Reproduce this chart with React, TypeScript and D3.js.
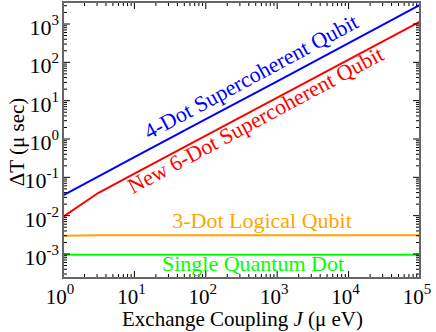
import React from "react";
import * as d3 from "d3";

const couplingJ = [1, 3.1, 10, 100, 1000, 10000, 100000];
const fourDot = [0.034, 0.105, 0.335, 3.3, 32, 315, 3150];
const sixDot = [0.0093, 0.039, 0.125, 1.23, 12.0, 117, 1150];
const threeDot = [0.0030, 0.0031, 0.0031, 0.0031, 0.0031, 0.0031, 0.0031];
const singleDot = [0.00096, 0.00096, 0.00096, 0.00096, 0.00096, 0.00096, 0.00096];

const xTickExps = [0, 1, 2, 3, 4, 5];
const yTickExps = [-3, -2, -1, 0, 1, 2, 3];

const W = 436, H = 332;
const L = 63, R = 420, T = 2, B = 278;

export default function App() {
  const x = d3.scaleLog().domain([1, 1e5]).range([L, R]);
  const y = d3.scaleLog().domain([2.366e-4, 3750]).range([B, T]);
  const line = d3.line<number>().x((_, i) => x(couplingJ[i])).y((v) => y(v));

  const xMinor: number[] = [];
  for (let e = 0; e < 5; e++) for (let m = 2; m <= 9; m++) xMinor.push(m * Math.pow(10, e));
  const yMinor: number[] = [];
  for (let e = -4; e <= 3; e++) for (let m = 2; m <= 9; m++) {
    const v = m * Math.pow(10, e);
    if (v >= 2.366e-4 && v <= 3750) yMinor.push(v);
  }
  const angle = (Math.atan2(y(10) - y(1), x(10) - x(1)) * 180) / Math.PI;
  const font = "'Liberation Serif', 'Times New Roman', serif";

  const series = [
    { data: fourDot, color: "#0000ff" },
    { data: sixDot, color: "#ff0000" },
    { data: threeDot, color: "#ffa500" },
    { data: singleDot, color: "#00ff00" },
  ];

  return (
    <svg width={W} height={H} style={{ position: "absolute", left: 0, top: 0 }} fontFamily={font}>
      <rect x={0} y={0} width={W} height={H} fill="#fff" />
      {series.map((s, i) => (
        <path key={i} d={line(s.data) || ""} fill="none" stroke={s.color} strokeWidth={2} />
      ))}
      <g stroke="#000" strokeWidth={1}>
        {xTickExps.map((e) => {
          const px = x(Math.pow(10, e));
          return (
            <g key={"xm" + e}>
              <line x1={px} x2={px} y1={B} y2={B - 7} />
              <line x1={px} x2={px} y1={T} y2={T + 7} />
            </g>
          );
        })}
        {xMinor.map((v) => (
          <g key={"xn" + v}>
            <line x1={x(v)} x2={x(v)} y1={B} y2={B - 4} />
            <line x1={x(v)} x2={x(v)} y1={T} y2={T + 4} />
          </g>
        ))}
        {yTickExps.map((e) => {
          const py = y(Math.pow(10, e));
          return (
            <g key={"ym" + e}>
              <line x1={L} x2={L + 7} y1={py} y2={py} />
              <line x1={R} x2={R - 7} y1={py} y2={py} />
            </g>
          );
        })}
        {yMinor.map((v) => (
          <g key={"yn" + v}>
            <line x1={L} x2={L + 4} y1={y(v)} y2={y(v)} />
            <line x1={R} x2={R - 4} y1={y(v)} y2={y(v)} />
          </g>
        ))}
      </g>
      <rect x={L} y={T} width={R - L} height={B - T} fill="none" stroke="#666" strokeWidth={2} />
      {xTickExps.map((e) => (
        <text key={"xl" + e} x={x(Math.pow(10, e)) - 3} y={304} textAnchor="middle" fontSize={21}>
          10<tspan dy={-10} fontSize={15}>{e}</tspan>
        </text>
      ))}
      {yTickExps.map((e) => (
        <text key={"yl" + e} x={59} y={y(Math.pow(10, e)) + 11} textAnchor="end" fontSize={22}>
          10<tspan dy={-10} fontSize={15}>{e}</tspan>
        </text>
      ))}
      <text x={(L + R) / 2 + 1} y={326} textAnchor="middle" fontSize={21}>
        Exchange Coupling <tspan fontStyle="italic">J</tspan> (μ eV)
      </text>
      <text transform={`translate(24,142) rotate(-90)`} textAnchor="middle" fontSize={21}>
        ΔT (μ sec)
      </text>
      <text transform={`translate(${x(16)},${y(0.95)}) rotate(${angle})`} fill="#0000ff" fontSize={22}>
        4-Dot Supercoherent Qubit
      </text>
      <text transform={`translate(${x(9.5)},${y(0.036)}) rotate(${angle})`} fill="#ff0000" fontSize={22}>
        New 6-Dot Supercoherent Qubit
      </text>
      <text x={262} y={228} textAnchor="middle" fill="#ffa500" fontSize={22}>
        3-Dot Logical Qubit
      </text>
      <text x={253} y={271} textAnchor="middle" fill="#00ff00" fontSize={22}>
        Single Quantum Dot
      </text>
    </svg>
  );
}
